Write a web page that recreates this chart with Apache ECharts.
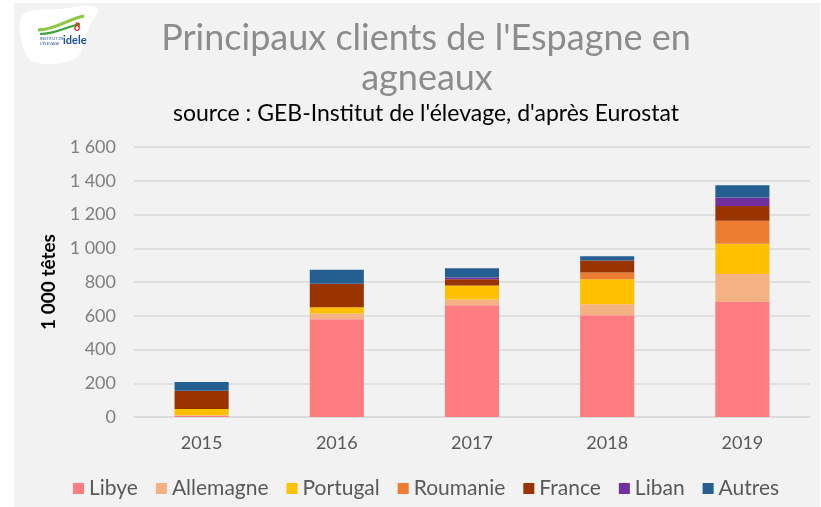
<!DOCTYPE html>
<html>
<head>
<meta charset="utf-8">
<script src="https://cdn.jsdelivr.net/npm/echarts@6/dist/echarts.min.js"></script>
<style>
  html, body { margin: 0; padding: 0; background: #fff; }
  #chart { width: 821px; height: 507px; }
</style>
</head>
<body>
<div id="chart"></div>
<script>
// values in 1 000 heads
const years = ['2015', '2016', '2017', '2018', '2019'];
const libye = [8, 580, 662, 603, 682];
const allemagne = [3, 33, 34, 65, 165];
const portugal = [37, 37, 84, 148, 179];
const roumanie = [0, 0, 0, 41, 137];
const france = [108, 140, 36, 71, 87];
const liban = [0, 0, 10, 0, 51];
const autres = [51, 83, 56, 25, 73];

const yTicks = [0, 200, 400, 600, 800, 1000, 1200, 1400, 1600];

const seriesDefs = [
  { name: 'Libye', data: libye, color: '#ff7c80' },
  { name: 'Allemagne', data: allemagne, color: '#f4b183' },
  { name: 'Portugal', data: portugal, color: '#ffc000' },
  { name: 'Roumanie', data: roumanie, color: '#ed7d31' },
  { name: 'France', data: france, color: '#993300' },
  { name: 'Liban', data: liban, color: '#7030a0' },
  { name: 'Autres', data: autres, color: '#255e91' },
];

const font = 'Lato, "Noto Sans", sans-serif';

const chart = echarts.init(document.getElementById('chart'));

chart.setOption({
  backgroundColor: '#ffffff',
  animation: false,
  textStyle: { fontFamily: font },
  graphic: [
    {
      type: 'rect',
      z: -10,
      silent: true,
      shape: { x: 14, y: 3, width: 806, height: 504 },
      style: { fill: '#f2f2f2' },
    },
    // small idele logo, top left
    {
      type: 'polygon',
      silent: true,
      shape: {
        points: [[24, 14], [60, 9], [97, 8], [88, 30], [76, 58], [34, 62], [21, 40]],
        smooth: 0.35,
      },
      style: { fill: '#ffffff' },
    },
    {
      type: 'bezierCurve',
      silent: true,
      shape: { x1: 38, y1: 30, x2: 84, y2: 16, cpx1: 56, cpy1: 30, cpx2: 70, cpy2: 18 },
      style: { stroke: '#8dc63f', lineWidth: 3, fill: null },
    },
    {
      type: 'bezierCurve',
      silent: true,
      shape: { x1: 40, y1: 34, x2: 80, y2: 24, cpx1: 56, cpy1: 34, cpx2: 68, cpy2: 26 },
      style: { stroke: '#3aa335', lineWidth: 2, fill: null },
    },
    {
      type: 'text',
      silent: true,
      left: 74,
      top: 22,
      style: { text: 'ð', fill: '#e2231a', fontSize: 11, fontWeight: 'bold', fontFamily: font },
    },
    {
      type: 'text',
      silent: true,
      left: 40,
      top: 36,
      style: { text: 'INSTITUT DE\nL\'ÉLEVAGE', fill: '#1f4e9c', fontSize: 4, lineHeight: 5, fontFamily: font },
    },
    {
      type: 'text',
      silent: true,
      left: 63,
      top: 35,
      style: { text: 'idele', fill: '#1f4e9c', fontSize: 11, fontWeight: 'bold', fontFamily: font },
    },
  ],
  title: [
    {
      text: "Principaux clients de l'Espagne en",
      left: 421,
      top: 15,
      textAlign: 'center',
      textStyle: { fontSize: 36, fontWeight: 'normal', color: '#8c8c8c', fontFamily: font },
    },
    {
      text: 'agneaux',
      left: 422,
      top: 55,
      textAlign: 'center',
      textStyle: { fontSize: 36, fontWeight: 'normal', color: '#8c8c8c', fontFamily: font },
    },
    {
      text: "source : GEB-Institut de l'élevage, d'après Eurostat",
      left: 421,
      top: 97,
      textAlign: 'center',
      textStyle: { fontSize: 23, fontWeight: 'normal', color: '#000000', fontFamily: font },
    },
  ],
  legend: {
    left: 68,
    top: 473,
    icon: 'rect',
    itemWidth: 11,
    itemHeight: 11,
    itemGap: 18,
    textStyle: { fontSize: 21, color: '#595959', fontFamily: font },
    data: seriesDefs.map((s) => s.name),
  },
  grid: {
    left: 134,
    right: 11,
    top: 147,
    bottom: 90,
    containLabel: false,
  },
  xAxis: {
    type: 'category',
    data: years,
    axisLine: { show: true, lineStyle: { color: '#d9d9d9', width: 1.5 } },
    axisTick: { show: false },
    axisLabel: { fontSize: 18, color: '#595959', margin: 17, fontFamily: font },
  },
  yAxis: {
    type: 'value',
    min: yTicks[0],
    max: yTicks[yTicks.length - 1],
    interval: 200,
    name: '1 000 têtes',
    nameLocation: 'middle',
    nameRotate: 90,
    nameGap: 68,
    nameTextStyle: { fontSize: 19, fontWeight: 'bold', color: '#000000', fontFamily: font },
    axisLine: { show: false },
    axisTick: { show: false },
    splitLine: { lineStyle: { color: '#d9d9d9', width: 1.5 } },
    axisLabel: {
      fontSize: 18,
      color: '#7f7f7f',
      margin: 18,
      fontFamily: font,
      formatter: (v) => (v >= 1000 ? Math.floor(v / 1000) + ' ' + String(v % 1000).padStart(3, '0') : String(v)),
    },
  },
  series: seriesDefs.map((s) => ({
    name: s.name,
    type: 'bar',
    stack: 'total',
    barWidth: '40%',
    data: s.data,
    itemStyle: { color: s.color },
  })),
});
</script>
</body>
</html>
